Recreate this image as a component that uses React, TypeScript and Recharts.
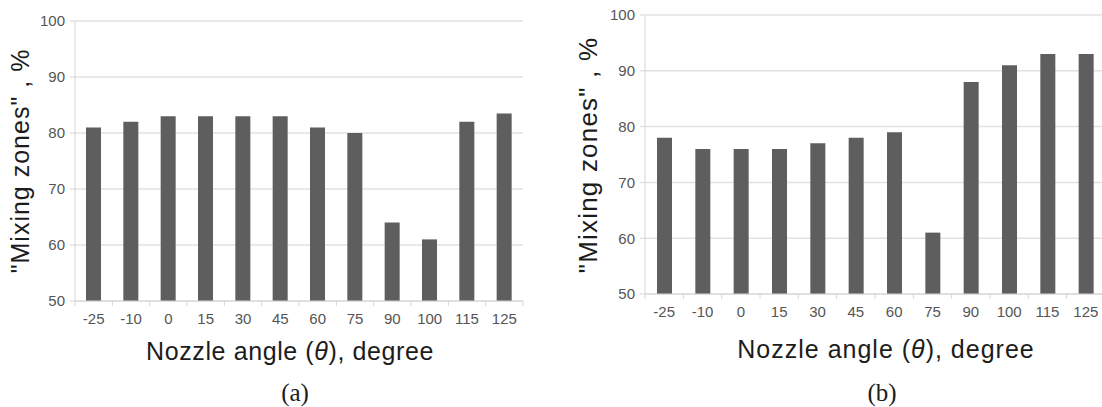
import { BarChart, Bar, XAxis, YAxis, CartesianGrid } from "recharts";

const angles = ["-25", "-10", "0", "15", "30", "45", "60", "75", "90", "100", "115", "125"];
const mixingA = [81, 82, 83, 83, 83, 83, 81, 80, 64, 61, 82, 83.5];
const mixingB = [78, 76, 76, 76, 77, 78, 79, 61, 88, 91, 93, 93];
const yTicks = [50, 60, 70, 80, 90, 100];

const FONT = '"Liberation Sans", Arial, sans-serif';
const AXIS_GRAY = "#d6d6d6";
const TICK_GRAY = "#555555";

function AngleTick(props: any): JSX.Element {
  const { x, y, payload, index, band, count } = props;
  const half = band / 2;
  return (
    <g>
      <line x1={x - half} y1={y} x2={x - half} y2={y + 5} stroke={AXIS_GRAY} />
      {index === count - 1 && (
        <line x1={x + half} y1={y} x2={x + half} y2={y + 5} stroke={AXIS_GRAY} />
      )}
      <text
        x={x}
        y={y + 23}
        textAnchor="middle"
        fill={TICK_GRAY}
        fontSize={15}
        fontFamily={FONT}
      >
        {payload.value}
      </text>
    </g>
  );
}

function Panel({
  values,
  margin,
  band,
}: {
  values: number[];
  margin: { top: number; right: number; bottom: number; left: number };
  band: number;
}): JSX.Element {
  const data = angles.map((a, i) => ({ angle: a, value: values[i] }));
  return (
    <BarChart width={560} height={407} data={data} margin={margin}>
      <CartesianGrid vertical={false} stroke="#e2e2e2" strokeWidth={1.5} />
      <XAxis
        dataKey="angle"
        stroke={AXIS_GRAY}
        tickLine={false}
        tickSize={0}
        tickMargin={0}
        height={30}
        interval={0}
        tick={<AngleTick band={band} count={angles.length} />}
      />
      <YAxis
        domain={[50, 100]}
        ticks={yTicks}
        stroke={AXIS_GRAY}
        width={40}
        tickSize={5}
        tickMargin={5}
        tick={{ fill: TICK_GRAY, fontSize: 15, fontFamily: FONT }}
      />
      <Bar dataKey="value" fill="#5e5e5e" barSize={15} isAnimationActive={false} />
    </BarChart>
  );
}

export default function App(): JSX.Element {
  return (
    <div
      style={{
        position: "absolute",
        left: 0,
        top: 0,
        width: 1102,
        height: 407,
        overflow: "hidden",
        background: "#fff",
      }}
    >
      <div style={{ position: "absolute", left: 0, top: 0 }}>
        <Panel values={mixingA} margin={{ top: 21, right: 37, bottom: 76, left: 35 }} band={448 / 12} />
      </div>
      <div style={{ position: "absolute", left: 560, top: 0 }}>
        <Panel values={mixingB} margin={{ top: 15, right: 15, bottom: 83, left: 45 }} band={460 / 12} />
      </div>
      <svg
        width={1102}
        height={407}
        style={{ position: "absolute", left: 0, top: 0, pointerEvents: "none" }}
      >
        <g fontFamily={FONT} fill="#1c1c1c">
          <text
            x={29}
            y={161}
            transform="rotate(-90 29 161)"
            textAnchor="middle"
            fontSize={25}
            letterSpacing={1}
          >
            "Mixing zones" , %
          </text>
          <text x={290} y={360} textAnchor="middle" fontSize={25} letterSpacing={0.6}>
            Nozzle angle (<tspan fontStyle="italic">θ</tspan>), degree
          </text>
          <text
            x={597}
            y={155}
            transform="rotate(-90 597 155)"
            textAnchor="middle"
            fontSize={26}
            letterSpacing={1.2}
          >
            "Mixing zones" , %
          </text>
          <text x={886} y={358} textAnchor="middle" fontSize={25} letterSpacing={1}>
            Nozzle angle (<tspan fontStyle="italic">θ</tspan>), degree
          </text>
        </g>
        <g fontFamily='"Liberation Serif", "Times New Roman", serif' fill="#1c1c1c" fontSize={25}>
          <text x={295} y={401} textAnchor="middle">
            (a)
          </text>
          <text x={882} y={401} textAnchor="middle">
            (b)
          </text>
        </g>
      </svg>
    </div>
  );
}
